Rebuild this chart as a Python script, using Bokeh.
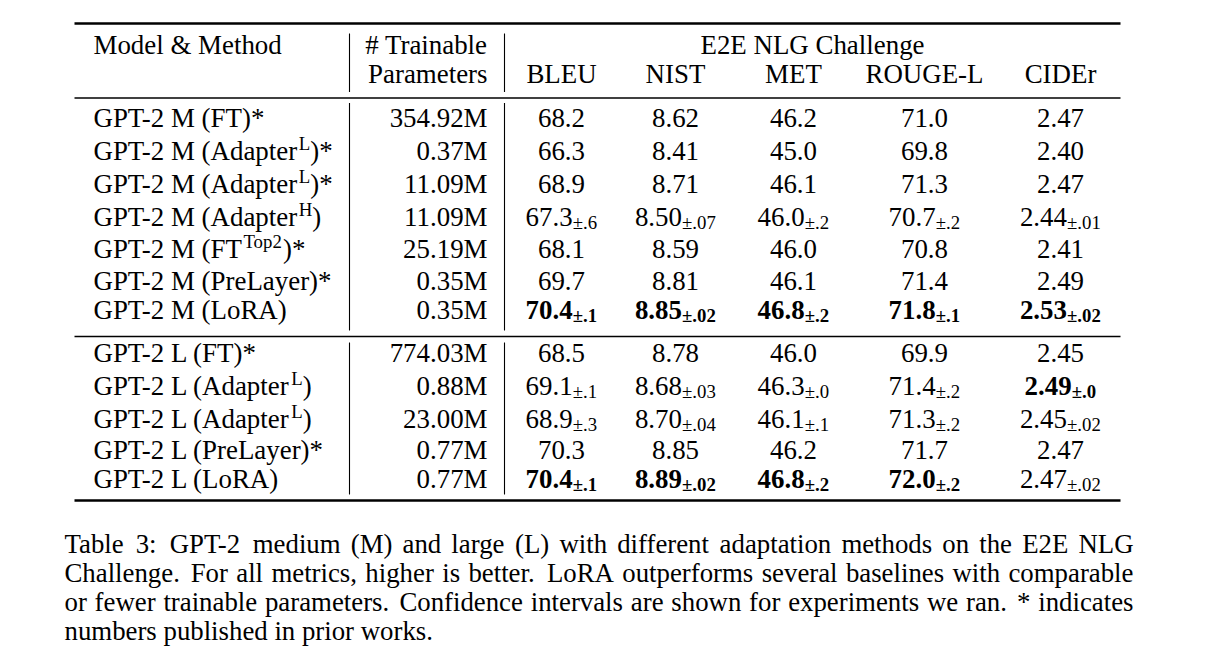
import re
from bokeh.plotting import figure
from bokeh.models import Range1d
from bokeh.embed import file_html
from bokeh.resources import INLINE

# ---------------- data ----------------
header_model = "Model & Method"
header_params = ["# Trainable", "Parameters"]
header_group = "E2E NLG Challenge"
metric_names = ["BLEU", "NIST", "MET", "ROUGE-L", "CIDEr"]

models = ["GPT-2 M (FT)*", "GPT-2 M (Adapter^L)*", "GPT-2 M (Adapter^L)*",
          "GPT-2 M (Adapter^H)", "GPT-2 M (FT^Top2)*", "GPT-2 M (PreLayer)*",
          "GPT-2 M (LoRA)",
          "GPT-2 L (FT)*", "GPT-2 L (Adapter^L)", "GPT-2 L (Adapter^L)",
          "GPT-2 L (PreLayer)*", "GPT-2 L (LoRA)"]
group_sizes = [7, 5]
params = ["354.92M", "0.37M", "11.09M", "11.09M", "25.19M", "0.35M", "0.35M",
          "774.03M", "0.88M", "23.00M", "0.77M", "0.77M"]

bleu = [68.2, 66.3, 68.9, 67.3, 68.1, 69.7, 70.4, 68.5, 69.1, 68.9, 70.3, 70.4]
bleu_ci = ["", "", "", ".6", "", "", ".1", "", ".1", ".3", "", ".1"]
bleu_best = [0, 0, 0, 0, 0, 0, 1, 0, 0, 0, 0, 1]

nist = [8.62, 8.41, 8.71, 8.50, 8.59, 8.81, 8.85, 8.78, 8.68, 8.70, 8.85, 8.89]
nist_ci = ["", "", "", ".07", "", "", ".02", "", ".03", ".04", "", ".02"]
nist_best = [0, 0, 0, 0, 0, 0, 1, 0, 0, 0, 0, 1]

met = [46.2, 45.0, 46.1, 46.0, 46.0, 46.1, 46.8, 46.0, 46.3, 46.1, 46.2, 46.8]
met_ci = ["", "", "", ".2", "", "", ".2", "", ".0", ".1", "", ".2"]
met_best = [0, 0, 0, 0, 0, 0, 1, 0, 0, 0, 0, 1]

rouge = [71.0, 69.8, 71.3, 70.7, 70.8, 71.4, 71.8, 69.9, 71.4, 71.3, 71.7, 72.0]
rouge_ci = ["", "", "", ".2", "", "", ".1", "", ".2", ".2", "", ".2"]
rouge_best = [0, 0, 0, 0, 0, 0, 1, 0, 0, 0, 0, 1]

cider = [2.47, 2.40, 2.47, 2.44, 2.41, 2.49, 2.53, 2.45, 2.49, 2.45, 2.47, 2.47]
cider_ci = ["", "", "", ".01", "", "", ".02", "", ".0", ".02", "", ".02"]
cider_best = [0, 0, 0, 0, 0, 0, 1, 0, 1, 0, 0, 0]

caption_lines = [
    "Table 3: GPT-2 medium (M) and large (L) with different adaptation methods on the E2E NLG",
    "Challenge. For all metrics, higher is better. LoRA outperforms several baselines with comparable",
    "or fewer trainable parameters. Confidence intervals are shown for experiments we ran. * indicates",
    "numbers published in prior works.",
]

# ---------------- layout / style ----------------
W_PX, H_PX = 1225, 650
FONT = "Liberation Serif"
FS = 26.9          # table font size (px)
SUB = 18.8         # sub/superscript size
CFS = 26.8         # caption font size
TL, TR = 74, 1120  # table rule extent
X_MODEL = 93
X_PARAM = 487
COL_CENTERS = [561, 675, 793, 924, 1060]
X_GROUP = 812
VLINES = [349, 504]
Y_TOP, Y_HEAD, Y_MID, Y_BOT = 23, 97.5, 336, 500
# text anchor rows (visual centre of each text line)
HB = [44, 73]
ROW_Y = [117, 150, 183, 216, 248, 280, 309, 352, 385, 418, 449, 478]
CAP_L, CAP_R = 64, 1133
CAP_Y = [543, 572, 601, 630]
SUP_DY, SUB_DY = -7.5, 5.5

AFM = {' ': 250, '!': 333, '#': 500, '&': 778, '(': 333, ')': 333, '*': 500,
       ',': 250, '-': 333, '.': 250, ':': 278, '±': 564,
       'A': 722, 'B': 667, 'C': 667, 'D': 722, 'E': 611, 'F': 556, 'G': 722,
       'H': 722, 'I': 333, 'J': 389, 'K': 722, 'L': 611, 'M': 889, 'N': 722,
       'O': 722, 'P': 556, 'Q': 722, 'R': 667, 'S': 556, 'T': 611, 'U': 722,
       'V': 722, 'W': 944, 'X': 722, 'Y': 722, 'Z': 611,
       'a': 444, 'b': 500, 'c': 444, 'd': 500, 'e': 444, 'f': 333, 'g': 500,
       'h': 500, 'i': 278, 'j': 278, 'k': 500, 'l': 278, 'm': 778, 'n': 500,
       'o': 500, 'p': 500, 'q': 500, 'r': 333, 's': 389, 't': 278, 'u': 500,
       'v': 500, 'w': 722, 'x': 500, 'y': 500, 'z': 444}


def tw(s, size):
    return sum(AFM.get(c, 500) for c in s) * size / 1000.0


frags = []  # (x, y, text, size, style, align)


def add(x, y, t, size, style="normal", align="left"):
    frags.append((x, y, t, size, style, align))


# header
add(X_MODEL, HB[0], header_model, FS)
add(X_PARAM, HB[0], header_params[0], FS, align="right")
add(X_PARAM, HB[1], header_params[1], FS, align="right")
add(X_GROUP, HB[0], header_group, FS, align="center")
for c, name in zip(COL_CENTERS, metric_names):
    add(c, HB[1], name, FS, align="center")

# body
metrics = [(bleu, bleu_ci, bleu_best, 1), (nist, nist_ci, nist_best, 2),
           (met, met_ci, met_best, 1), (rouge, rouge_ci, rouge_best, 1),
           (cider, cider_ci, cider_best, 2)]
for i, name in enumerate(models):
    yb = ROW_Y[i]
    m = re.match(r"^(.*?)\^([^)]*)(.*)$", name)
    if m:
        base, sup, tail = m.groups()
        add(X_MODEL, yb, base, FS)
        xs = X_MODEL + tw(base, FS) - 1
        add(xs, yb + SUP_DY, sup, SUB)
        add(xs + tw(sup, SUB), yb, tail, FS)
    else:
        add(X_MODEL, yb, name, FS)
    add(X_PARAM, yb, params[i], FS, align="right")
    for c, (vals, cis, best, dec) in zip(COL_CENTERS, metrics):
        main = f"{vals[i]:.{dec}f}"
        style = "bold" if best[i] else "normal"
        if cis[i]:
            sub = "±" + cis[i]
            total = tw(main, FS) + tw(sub, SUB)
            x0 = c - total / 2
            add(x0, yb, main, FS, style)
            add(x0 + tw(main, FS), yb + SUB_DY, sub, SUB, style)
        else:
            add(c, yb, main, FS, style, align="center")

# caption (justified)
for li, line in enumerate(caption_lines):
    words = line.split(" ")
    yb = CAP_Y[li]
    if li == len(caption_lines) - 1:
        add(CAP_L, yb, line, CFS)
        continue
    widths = [tw(w, CFS) for w in words]
    weights = [1.3 if w.endswith((".", ":")) else 1.0 for w in words[:-1]]
    extra = (CAP_R - CAP_L) - sum(widths)
    unit = extra / sum(weights)
    x = CAP_L
    for k, w in enumerate(words):
        add(x, yb, w, CFS)
        if k < len(weights):
            x += widths[k] + unit * weights[k]

# ---------------- figure ----------------
p = figure(width=W_PX, height=H_PX, x_range=Range1d(0, W_PX), y_range=Range1d(H_PX, 0),
           output_backend="svg", toolbar_location=None, min_border=0,
           x_axis_type=None, y_axis_type=None)
p.grid.visible = False
p.outline_line_color = None
p.background_fill_color = "white"
p.border_fill_color = "white"

# horizontal rules
p.segment(x0=[TL, TL], x1=[TR, TR], y0=[Y_TOP, Y_BOT], y1=[Y_TOP, Y_BOT],
          line_color="black", line_width=2.6)
p.segment(x0=[TL, TL], x1=[TR, TR], y0=[Y_HEAD, Y_MID], y1=[Y_HEAD, Y_MID],
          line_color="black", line_width=1.3)

# vertical rules (header block and the two row groups)
blocks = [(Y_TOP + 10, Y_HEAD - 6), (Y_HEAD + 5, Y_MID - 6), (Y_MID + 6, Y_BOT - 6)]
vx0, vy0, vy1 = [], [], []
for vx in VLINES:
    for a, b in blocks:
        vx0.append(vx)
        vy0.append(a)
        vy1.append(b)
p.segment(x0=vx0, x1=vx0, y0=vy0, y1=vy1, line_color="black", line_width=1.1)

groups = {}
for f in frags:
    groups.setdefault((f[3], f[4], f[5]), []).append(f)
for (size, style, align), fs in groups.items():
    p.text(x=[f[0] for f in fs], y=[f[1] for f in fs], text=[f[2] for f in fs],
           text_font=FONT, text_font_size=f"{size}px", text_font_style=style,
           text_align=align, text_baseline="middle", text_color="black")

open("out.html", "w").write(file_html(p, INLINE))
